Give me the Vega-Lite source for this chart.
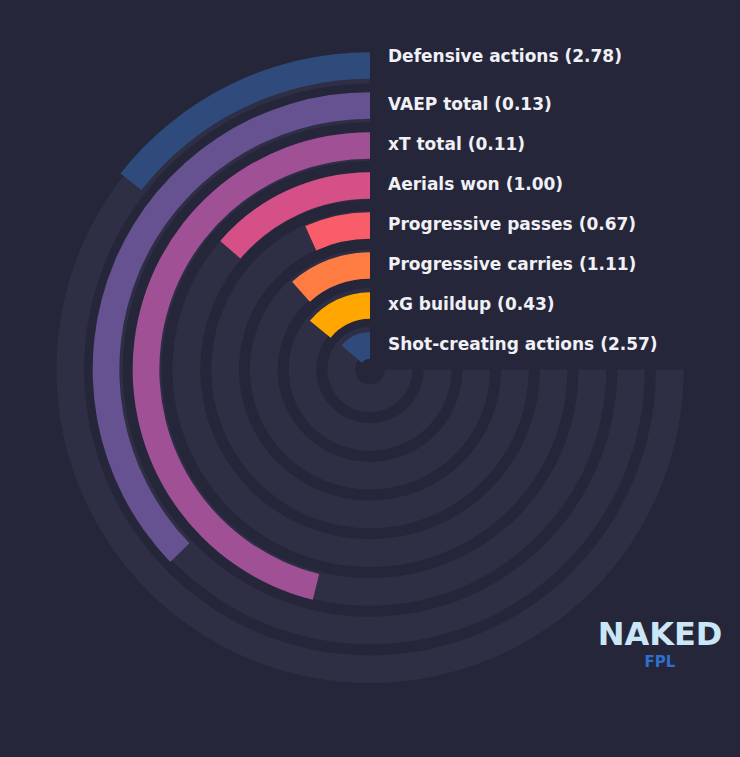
{
  "$schema": "https://vega.github.io/schema/vega-lite/v6.json",
  "width": 740,
  "height": 739,
  "autosize": "none",
  "padding": {"top": 0, "left": 0, "right": 0, "bottom": 18},
  "background": "#25263a",
  "title": {
    "text": "NAKED",
    "subtitle": "FPL",
    "orient": "bottom",
    "anchor": "end",
    "frame": "group",
    "align": "center",
    "dx": -80,
    "offset": -119,
    "font": "DejaVu Sans",
    "fontSize": 32,
    "fontWeight": "bold",
    "color": "#cbe6f7",
    "subtitleFont": "DejaVu Sans",
    "subtitleFontSize": 15,
    "subtitleFontWeight": "bold",
    "subtitleColor": "#2f6fd0",
    "subtitlePadding": 3
  },
  "data": {
    "values": [
      {"ring": 8, "metric": "Defensive actions", "value": 2.78, "pct": 19.2},
      {"ring": 7, "metric": "VAEP total", "value": 0.13, "pct": 49.6},
      {"ring": 6, "metric": "xT total", "value": 0.11, "pct": 61.5},
      {"ring": 5, "metric": "Aerials won", "value": 1.0, "pct": 18.3},
      {"ring": 4, "metric": "Progressive passes", "value": 0.67, "pct": 9.0},
      {"ring": 3, "metric": "Progressive carries", "value": 1.11, "pct": 15.4},
      {"ring": 2, "metric": "xG buildup", "value": 0.43, "pct": 18.9},
      {"ring": 1, "metric": "Shot-creating actions", "value": 2.57, "pct": 18.5}
    ]
  },
  "transform": [
    {"calculate": "datum.metric + ' (' + format(datum.value, '.2f') + ')'", "as": "label"}
  ],
  "layer": [
    {
      "mark": {
        "type": "arc",
        "theta": 6.28319,
        "theta2": 1.5708,
        "radiusOffset": 13.85,
        "radius2Offset": -13.85,
        "color": "#2e2f45"
      },
      "encoding": {
        "radius": {
          "field": "ring", "type": "quantitative",
          "scale": {"type": "linear", "zero": false, "domain": [1, 8], "range": [28.85, 299.75]}
        },
        "radius2": {"field": "ring"}
      }
    },
    {
      "mark": {"type": "arc", "radiusOffset": 13.35, "radius2Offset": -13.35},
      "encoding": {
        "theta": {
          "field": "pct", "type": "quantitative", "stack": null,
          "scale": {"domain": [0, 100], "range": [6.28319, 1.5708]}
        },
        "theta2": {"datum": 0},
        "radius": {
          "field": "ring", "type": "quantitative",
          "scale": {"type": "linear", "zero": false, "domain": [1, 8], "range": [24, 304]}
        },
        "radius2": {"field": "ring"},
        "color": {
          "field": "metric", "type": "nominal",
          "scale": {
            "domain": ["Defensive actions", "VAEP total", "xT total", "Aerials won", "Progressive passes", "Progressive carries", "xG buildup", "Shot-creating actions"],
            "range": ["#2f4b7c", "#665191", "#a05195", "#d45087", "#f95d6a", "#ff7c43", "#ffa600", "#2f4b7c"]
          },
          "legend": null
        }
      }
    },
    {
      "transform": [{"filter": "datum.ring < 8"}],
      "mark": {
        "type": "text", "align": "left", "baseline": "middle", "dx": 18, "dy": -1,
        "font": "DejaVu Sans", "fontWeight": "bold", "fontSize": 17, "color": "#f0f0f5"
      },
      "encoding": {
        "theta": {"datum": 0, "type": "quantitative"},
        "radius": {
          "field": "ring", "type": "quantitative",
          "scale": {"type": "linear", "zero": false, "domain": [1, 8], "range": [24, 304]}
        },
        "text": {"field": "label"}
      }
    },
    {
      "transform": [{"filter": "datum.ring == 8"}],
      "mark": {
        "type": "text", "align": "left", "baseline": "middle", "dx": 18, "dy": -9,
        "font": "DejaVu Sans", "fontWeight": "bold", "fontSize": 17, "color": "#f0f0f5"
      },
      "encoding": {
        "theta": {"datum": 0, "type": "quantitative"},
        "radius": {
          "field": "ring", "type": "quantitative",
          "scale": {"type": "linear", "zero": false, "domain": [1, 8], "range": [24, 304]}
        },
        "text": {"field": "label"}
      }
    }
  ],
  "resolve": {"scale": {"radius": "independent"}},
  "config": {"view": {"stroke": null}}
}
